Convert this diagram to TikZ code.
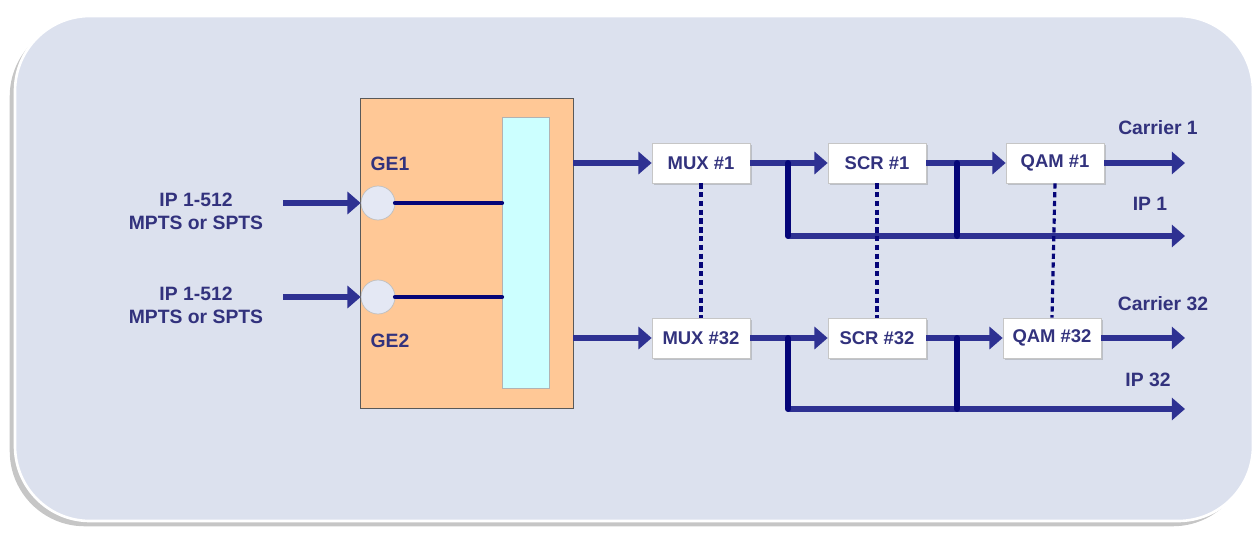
\documentclass[tikz,border=0pt]{standalone}
\usepackage{fontspec}
\setmainfont{Liberation Sans}
\usepackage{xcolor}
\usetikzlibrary{arrows.meta,shadows,positioning}
\definecolor{fondo}{RGB}{220,225,238}
\definecolor{naranja}{RGB}{255,200,150}
\definecolor{cian}{RGB}{204,255,255}
\definecolor{puerto}{RGB}{228,232,244}
\definecolor{azulflecha}{RGB}{46,49,146}
\definecolor{marino}{RGB}{5,5,120}
\definecolor{texto}{RGB}{50,50,125}

\begin{document}
\begin{tikzpicture}[x=0.02cm,y=-0.02cm,>={Triangle[length=7.5pt,width=12.5pt]},
  flecha/.style={->,line width=3.4pt,color=azulflecha},
  ramal/.style={line width=3.4pt,color=marino,line cap=round},
  enlace/.style={line width=2.8pt,color=marino,line cap=round},
  punteado/.style={line width=1.8pt,color=marino,dash pattern=on 3pt off 2pt},
  bloque/.style={draw=gray!45,fill=white,minimum width=1.96cm,minimum height=0.8cm,
    inner sep=0pt,text=texto,font=\fontsize{10.5}{12}\selectfont\bfseries,
    drop shadow={shadow xshift=1pt,shadow yshift=-1pt,opacity=.35}},
  etiqueta/.style={text=texto,align=center,inner sep=0pt,
    font=\fontsize{11}{13}\selectfont\bfseries}]
  \useasboundingbox (0,0) rectangle (1258,534);

  % Panel de fondo (rectangulo redondeado con sombra)
  \draw[fill=fondo,draw=white,line width=1.5pt,rounded corners=1.5cm,
    drop shadow={shadow xshift=-3pt,shadow yshift=-3pt,opacity=.45}]
    (15,16) rectangle (1253,521);

  % Equipo de entrada (caja naranja y bus cian)
  \node[draw=gray!70!black,fill=naranja,minimum width=4.26cm,minimum height=6.2cm,inner sep=0pt] (caja) at (466.5,253) {};
  \node[draw=gray!60,fill=cian,minimum width=0.94cm,minimum height=5.42cm,inner sep=0pt] (bus) at (525.5,252.5) {};

  % Puertos GE1 y GE2
  \node[circle,draw=gray!50,fill=puerto,minimum size=0.68cm,inner sep=0pt] (ge1) at (378,203) {};
  \node[circle,draw=gray!50,fill=puerto,minimum size=0.68cm,inner sep=0pt] (ge2) at (378,297) {};
  \node[etiqueta] (ge1txt) at (390,164) {GE1};
  \node[etiqueta] (ge2txt) at (390,341) {GE2};
  \draw[enlace] (ge1.east) -- (ge1.east -| bus.west);
  \draw[enlace] (ge2.east) -- (ge2.east -| bus.west);

  % Entradas IP
  \node[etiqueta] (ipin1) at (196,211) {IP 1-512\\MPTS or SPTS};
  \node[etiqueta] (ipin2) at (196,305) {IP 1-512\\MPTS or SPTS};
  \coordinate (in1) at (283,203);
  \coordinate (in2) at (283,297);
  \draw[flecha] (in1) -- (ge1.west);
  \draw[flecha] (in2) -- (ge2.west);

  % Cadena 1: MUX -> SCR -> QAM
  \node[bloque] (mux1) at (701,163) {MUX \#1};
  \node[bloque] (scr1) at (877,163) {SCR \#1};
  \node[bloque] (qam1) at (1055,163) {QAM \#1};
  \coordinate (car1) at (1185,163);
  \coordinate (d1) at (788,236);
  \coordinate (e1) at (957,236);
  \coordinate (ip1) at (1185,236);
  \draw[flecha] (caja.east |- mux1.west) -- (mux1.west);
  \draw[flecha] (mux1.east) -- (scr1.west);
  \draw[flecha] (scr1.east) -- (qam1.west);
  \draw[flecha] (qam1.east) -- (car1);
  \draw[flecha] (d1) -- (ip1);
  \draw[ramal] (d1 |- mux1.east) -- (d1);
  \draw[ramal] (e1 |- scr1.east) -- (e1);

  % Cadena 32: MUX -> SCR -> QAM
  \node[bloque] (mux32) at (701,338) {MUX \#32};
  \node[bloque] (scr32) at (877,338) {SCR \#32};
  \node[bloque] (qam32) at (1052,338) {QAM \#32};
  \coordinate (car32) at (1185,338);
  \coordinate (d32) at (788,409);
  \coordinate (e32) at (957,409);
  \coordinate (ip32) at (1185,409);
  \draw[flecha] (caja.east |- mux32.west) -- (mux32.west);
  \draw[flecha] (mux32.east) -- (scr32.west);
  \draw[flecha] (scr32.east) -- (qam32.west);
  \draw[flecha] (qam32.east) -- (car32);
  \draw[flecha] (d32) -- (ip32);
  \draw[ramal] (d32 |- mux32.east) -- (d32);
  \draw[ramal] (e32 |- scr32.east) -- (e32);

  % Lineas punteadas entre canales
  \draw[punteado] (mux1.south) -- (mux32.north);
  \draw[punteado] (scr1.south) -- (scr32.north);
  \draw[punteado] (qam1.south) -- (qam32.north);

  % Etiquetas de salida
  \node[etiqueta] (carrier1) at (1158,128) {Carrier 1};
  \node[etiqueta] (ipout1) at (1150,204) {IP 1};
  \node[etiqueta] (carrier32) at (1163,304) {Carrier 32};
  \node[etiqueta] (ipout32) at (1148,380) {IP 32};
\end{tikzpicture}
\end{document}
